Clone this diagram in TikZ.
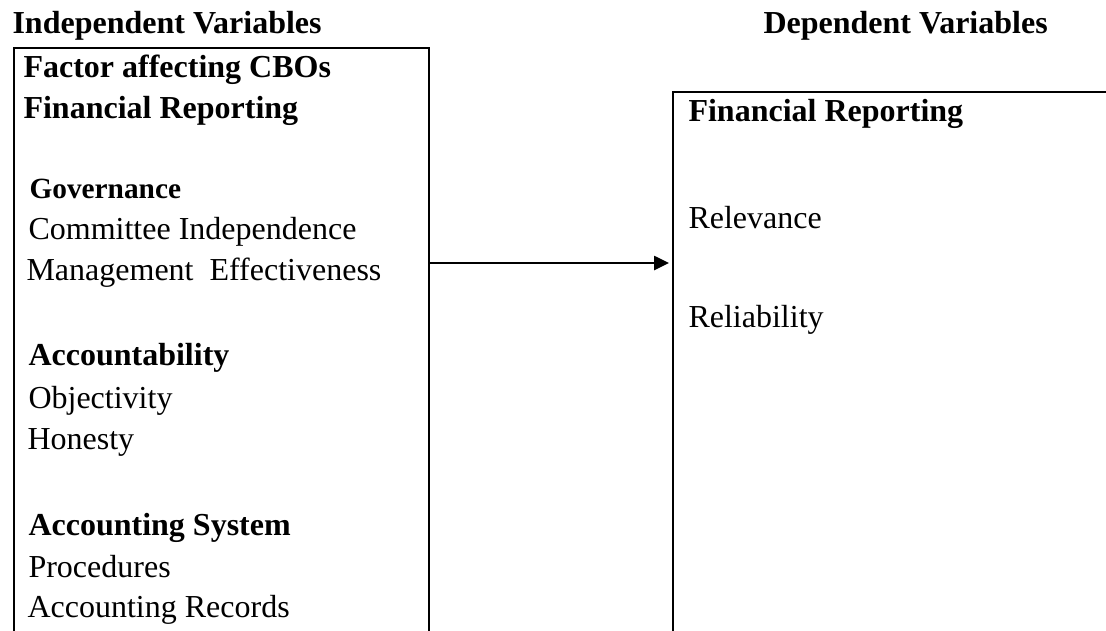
\documentclass[tikz,border=0pt]{standalone}
\usepackage{fontspec}
\setmainfont{Liberation Serif}
\usepackage{tikz}
\usetikzlibrary{arrows.meta}

\tikzset{
  txt/.style={anchor=base west,inner sep=0pt,font=\fontsize{12}{14}\selectfont},
  head/.style={txt,font=\fontsize{12}{14}\selectfont\bfseries},
  subhead/.style={txt,font=\fontsize{11}{13}\selectfont\bfseries},
  frame/.style={line width=0.9pt},
  flow/.style={line width=0.75pt,-{Triangle[length=5.6pt,width=5.3pt]}}
}

\begin{document}
\begin{tikzpicture}[x=0.375pt,y=-0.375pt]
\useasboundingbox (0,0) rectangle (1106,630);

% column titles
\node[head] (indep) at (12,33) {Independent Variables};
\node[head] (dep) at (763,33) {Dependent Variables};

% left box, open at the bottom
\draw[frame] (14,700) |- (429,48) -- (429,700);
\node[head] (fac) at (23,77) {Factor affecting CBOs};
\node[head] (fin) at (23,118) {Financial Reporting};

\node[subhead] (gov) at (29,198) {Governance};
\node[txt] (com) at (28,239) {Committee Independence};
\node[txt] (man) at (26,280) {Management\ \ Effectiveness};

\node[head] (acc) at (28,365) {Accountability};
\node[txt] (obj) at (28,408) {Objectivity};
\node[txt] (hon) at (27,449) {Honesty};

\node[head] (sys) at (28,535) {Accounting System};
\node[txt] (pro) at (28,577) {Procedures};
\node[txt] (rec) at (27,617) {Accounting Records};

% right box, runs off the page
\draw[frame] (673,700) |- (1200,92);
\node[head] (rep) at (688,121) {Financial Reporting};
\node[txt] (rel) at (688,228) {Relevance};
\node[txt] (lia) at (688,327) {Reliability};

% link between the two
\coordinate (out) at (429,263);
\coordinate (in) at (669,263);
\draw[flow] (out) -- (in);

\end{tikzpicture}
\end{document}
